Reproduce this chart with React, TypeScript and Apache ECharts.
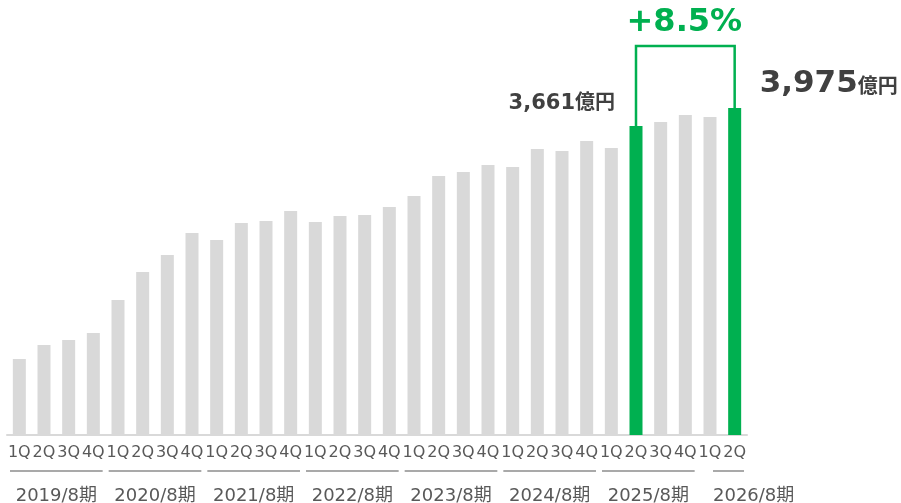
import { useEffect, useRef } from 'react';
import * as echarts from 'echarts';

const quarters = [
  '1Q', '2Q', '3Q', '4Q', '1Q', '2Q', '3Q', '4Q', '1Q', '2Q', '3Q', '4Q',
  '1Q', '2Q', '3Q', '4Q', '1Q', '2Q', '3Q', '4Q', '1Q', '2Q', '3Q', '4Q',
  '1Q', '2Q', '3Q', '4Q', '1Q', '2Q',
];
const fiscalYears = ['2019/8期', '2020/8期', '2021/8期', '2022/8期', '2023/8期', '2024/8期', '2025/8期', '2026/8期'];
const quartersPerYear = [4, 4, 4, 4, 4, 4, 4, 2];
const sales = [
  924, 1094, 1155, 1240, 1641, 1981, 2188, 2456, 2370, 2577, 2601, 2723,
  2589, 2662, 2674, 2772, 2905, 3148, 3197, 3282, 3258, 3477, 3452, 3574,
  3489, 3756, 3805, 3890, 3866, 3975,
];
const highlight = [25, 29];
const startLabel = '3,661';
const endLabel = '3,975';
const unit = '億円';
const growth = '+8.5%';

const GREEN = '#00b050';
const GRAY = '#d9d9d9';
const TEXT = '#404040';
const AXIS_TEXT = '#595959';
const LINE = '#8c8c8c';
const FONT = '"DejaVu Sans", "Noto Sans CJK JP", sans-serif';

export default function App() {
  const ref = useRef<HTMLDivElement>(null);
  useEffect(() => {
    const chart = echarts.init(ref.current!, null, { renderer: 'svg' });
    chart.setOption({
      animation: false,
      grid: { left: 7, right: 154, top: 108, bottom: 68 },
      xAxis: {
        type: 'category',
        data: quarters,
        axisLine: { lineStyle: { color: GRAY, width: 2 } },
        axisTick: { show: false },
        axisLabel: { interval: 0, fontSize: 16, color: AXIS_TEXT, fontFamily: FONT, margin: 8 },
      },
      yAxis: { type: 'value', min: 0, max: Math.max(...sales), show: false, splitLine: { show: false } },
      series: [
        {
          type: 'bar',
          barWidth: 13,
          data: sales.map((v, i) => ({ value: v, itemStyle: { color: highlight.includes(i) ? GREEN : GRAY } })),
        },
      ],
    });

    const px = (i: number, v: number) => chart.convertToPixel({ xAxisIndex: 0, yAxisIndex: 0 }, [i, v]) as number[];
    const base = px(0, 0)[1];
    const catW = px(1, 0)[0] - px(0, 0)[0];
    const elements: any[] = [];

    let s = 0;
    fiscalYears.forEach((fy, k) => {
      const n = quartersPerYear[k];
      const last = k === fiscalYears.length - 1;
      const x0 = last ? px(s, 0)[0] + 3 : px(s, 0)[0] - catW / 2 + 3;
      const x1 = px(s + n - 1, 0)[0] + catW / 2 - 3;
      elements.push({
        type: 'line',
        shape: { x1: x0, y1: base + 36, x2: x1, y2: base + 36 },
        style: { stroke: LINE, lineWidth: 1.5 },
      });
      elements.push({
        type: 'text',
        x: last ? x0 : (x0 + x1) / 2,
        y: base + 59,
        style: {
          text: fy, fontSize: 18, fill: AXIS_TEXT, fontFamily: FONT,
          textAlign: last ? 'left' : 'center', textVerticalAlign: 'middle',
        },
      });
      s += n;
    });

    const [ax, ay] = px(highlight[0], sales[highlight[0]]);
    const [bx, by] = px(highlight[1], sales[highlight[1]]);
    const topY = 46;
    elements.push({
      type: 'polyline',
      shape: { points: [[ax, ay], [ax, topY], [bx, topY], [bx, by]] },
      style: { stroke: GREEN, lineWidth: 2.5, fill: null },
      z: 10,
    });
    elements.push({
      type: 'text',
      x: (ax + bx) / 2 - 1,
      y: 20,
      style: { text: growth, fontSize: 32, fontWeight: 'bold', fill: GREEN, fontFamily: FONT, textAlign: 'center', textVerticalAlign: 'middle' },
    });
    elements.push({
      type: 'text',
      x: ax - 21,
      y: ay - 14,
      style: {
        text: `{a|${startLabel}}{b|${unit}}`,
        textAlign: 'right',
        textVerticalAlign: 'bottom',
        rich: {
          a: { fontSize: 21, fontWeight: 'bold', fill: TEXT, fontFamily: FONT, verticalAlign: 'bottom' },
          b: { fontSize: 20, fontWeight: 'bold', fill: TEXT, fontFamily: FONT, verticalAlign: 'bottom' },
        },
      },
    });
    elements.push({
      type: 'text',
      x: bx + 25,
      y: by - 12,
      style: {
        text: `{a|${endLabel}}{b|${unit}}`,
        textAlign: 'left',
        textVerticalAlign: 'bottom',
        rich: {
          a: { fontSize: 31, fontWeight: 'bold', fill: TEXT, fontFamily: FONT, verticalAlign: 'bottom' },
          b: { fontSize: 20, fontWeight: 'bold', fill: TEXT, fontFamily: FONT, verticalAlign: 'bottom' },
        },
      },
    });

    chart.setOption({ graphic: elements });
    return () => chart.dispose();
  }, []);
  return <div ref={ref} style={{ position: 'fixed', left: 0, top: 0, width: 901, height: 503 }} />;
}
